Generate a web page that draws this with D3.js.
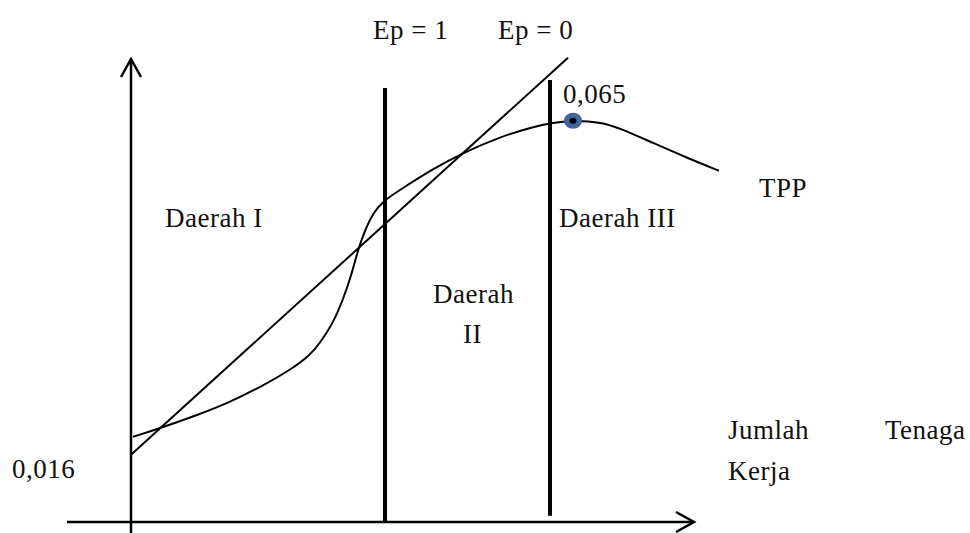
<!DOCTYPE html>
<html>
<head>
<meta charset="utf-8">
<script src="https://cdn.jsdelivr.net/npm/d3@7"></script>
<style>
  html, body { margin: 0; padding: 0; background: #fff; }
  svg text { font-family: "Liberation Serif", "DejaVu Serif", serif; font-size: 27px; letter-spacing: 0.5px; fill: #111; }
</style>
</head>
<body>
<svg id="chart"></svg>
<script>
// TPP curve (labour units, output)
const tppX = [0.04, 0.58, 1.32, 1.98, 2.64, 3.18, 3.58, 3.78, 4.04, 4.24, 4.42, 4.54, 4.68, 4.84, 5.04, 5.38, 6.04, 6.64, 7.38, 8.04, 8.38, 8.84, 9.38, 9.78, 10.44, 11.12, 11.76];
const tppY = [0.0138, 0.0152, 0.0173, 0.0194, 0.0221, 0.0246, 0.0270, 0.0290, 0.0322, 0.0360, 0.0403, 0.0441, 0.0473, 0.0500, 0.0520, 0.0538, 0.0572, 0.0598, 0.0624, 0.0640, 0.0646, 0.0651, 0.0648, 0.0638, 0.0614, 0.0590, 0.0569];

// straight line from the vertical axis
const rayX = [0, 8.74];
const rayY = [0.0109, 0.0752];

// stage boundaries: Ep = 1 and Ep = 0
const boundX = [5.08, 8.38];
const boundBottom = [0, 0.001];
const boundTop = [0.0703, 0.0716];

// peak marker
const peak = { x: 8.84, y: 0.065 };

// annotations (text, anchor in data units)
const labels = [
  { text: "Ep = 1", x: 4.84, y: 0.0782 },
  { text: "Ep = 0", x: 7.34, y: 0.0782 },
  { text: "0,065", x: 8.64, y: 0.0679 },
  { text: "TPP", x: 12.56, y: 0.0527 },
  { text: "Daerah I", x: 0.68, y: 0.0478 },
  { text: "Daerah III", x: 8.56, y: 0.0478 },
  { text: "Daerah", x: 6.04, y: 0.0355 },
  { text: "II", x: 6.64, y: 0.0290 },
  { text: "0,016", x: -2.38, y: 0.0071 },
  { text: "Jumlah", x: 11.94, y: 0.0134 },
  { text: "Tenaga", x: 15.08, y: 0.0134 },
  { text: "Kerja", x: 11.94, y: 0.0068 }
];

const width = 970;
const height = 533;

const svg = d3.select("#chart")
  .attr("width", width)
  .attr("height", height);

const x = d3.scaleLinear().domain([0, 10]).range([131, 631]);
const y = d3.scaleLinear().domain([0, 0.075]).range([522, 59]);

// axes with arrow heads
const xEnd = 11.26, xStart = -1.28;
const yEnd = 0.075, yStart = -0.0018;

svg.append("line")
  .attr("x1", x(xStart)).attr("x2", x(xEnd))
  .attr("y1", y(0)).attr("y2", y(0))
  .attr("stroke", "#000").attr("stroke-width", 2.5);

svg.append("line")
  .attr("x1", x(0)).attr("x2", x(0))
  .attr("y1", y(yStart)).attr("y2", y(yEnd))
  .attr("stroke", "#000").attr("stroke-width", 2.5);

svg.append("path")
  .attr("d", `M${x(0) - 10},${y(yEnd) + 18} L${x(0)},${y(yEnd)} L${x(0) + 10},${y(yEnd) + 18}`)
  .attr("fill", "none").attr("stroke", "#000").attr("stroke-width", 2.5);

svg.append("path")
  .attr("d", `M${x(xEnd) - 18},${y(0) - 10} L${x(xEnd)},${y(0)} L${x(xEnd) - 18},${y(0) + 10}`)
  .attr("fill", "none").attr("stroke", "#000").attr("stroke-width", 2.5);

// stage boundaries
svg.selectAll(".bound")
  .data(boundX)
  .enter()
  .append("line")
  .attr("class", "bound")
  .attr("x1", d => x(d)).attr("x2", d => x(d))
  .attr("y1", (d, i) => y(boundBottom[i]))
  .attr("y2", (d, i) => y(boundTop[i]))
  .attr("stroke", "#000").attr("stroke-width", 4);

// straight line
svg.append("line")
  .attr("x1", x(rayX[0])).attr("y1", y(rayY[0]))
  .attr("x2", x(rayX[1])).attr("y2", y(rayY[1]))
  .attr("stroke", "#000").attr("stroke-width", 2);

// TPP curve
const line = d3.line()
  .x(d => x(d[0]))
  .y(d => y(d[1]))
  .curve(d3.curveBasis);

svg.append("path")
  .datum(d3.zip(tppX, tppY))
  .attr("d", line)
  .attr("fill", "none")
  .attr("stroke", "#000")
  .attr("stroke-width", 2);

// peak point
svg.append("ellipse")
  .attr("cx", x(peak.x)).attr("cy", y(peak.y))
  .attr("rx", 9).attr("ry", 8)
  .attr("fill", "#41679a");

svg.append("ellipse")
  .attr("cx", x(peak.x)).attr("cy", y(peak.y))
  .attr("rx", 3.5).attr("ry", 3)
  .attr("fill", "#000");

// text
svg.selectAll(".label")
  .data(labels)
  .enter()
  .append("text")
  .attr("class", "label")
  .attr("x", d => x(d.x))
  .attr("y", d => y(d.y))
  .text(d => d.text);
</script>
</body>
</html>
